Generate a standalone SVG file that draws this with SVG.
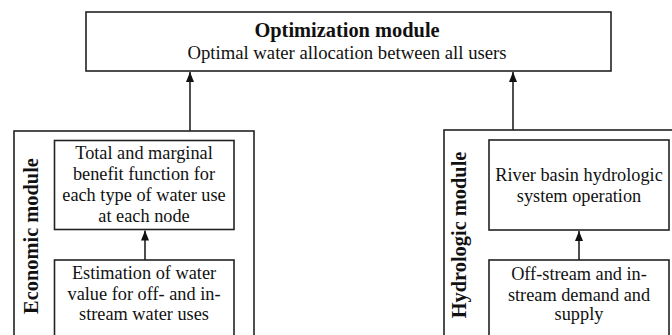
<svg xmlns="http://www.w3.org/2000/svg" width="672" height="335" viewBox="0 0 672 335">
  <style>
    .box { fill: #ffffff; stroke: #222222; stroke-width: 1.6; }
    .txt { font-family: "Liberation Serif", "Times New Roman", serif; font-size: 18.3px; fill: #111111; text-anchor: middle; }
    .sub { font-size: 18.7px; }
    .bold { font-family: "Liberation Serif", "Times New Roman", serif; font-size: 20.4px; font-weight: bold; fill: #111111; text-anchor: middle; }
    .link { stroke: #222222; stroke-width: 1.6; fill: none; marker-end: url(#arrow); }
  </style>
  <defs>
    <!-- filled triangular head, drawn along +x so orient="auto" points it along the line -->
    <marker id="arrow" viewBox="0 0 10 8" refX="10" refY="4" markerWidth="10" markerHeight="8" markerUnits="userSpaceOnUse" orient="auto">
      <path d="M0,0 L10,4 L0,8 Z" fill="#111111"/>
    </marker>
  </defs>
  <rect width="672" height="335" fill="#ffffff"/>

  <!-- Top: optimization module -->
  <g id="optimization">
    <rect class="box" x="86" y="12" width="525" height="59"/>
    <text class="bold" x="347" y="37">Optimization module</text>
    <text class="txt sub" x="347" y="58.5">Optimal water allocation between all users</text>
  </g>

  <!-- Left: economic module container -->
  <g id="economic">
    <rect class="box" x="14" y="131" width="240" height="220"/>
    <text class="bold" transform="translate(37.5,236) rotate(-90)" x="0" y="0">Economic module</text>
  </g>
  <g id="benefit">
    <rect class="box" x="54.5" y="140.5" width="179.5" height="89"/>
    <text class="txt" x="144" y="159">Total and marginal</text>
    <text class="txt" x="144" y="180">benefit function for</text>
    <text class="txt" x="144" y="201">each type of water use</text>
    <text class="txt" x="144" y="222">at each node</text>
  </g>
  <g id="valuation">
    <rect class="box" x="54.5" y="260" width="179.5" height="90"/>
    <text class="txt" x="144" y="279">Estimation of water</text>
    <text class="txt" x="144" y="300">value for off- and in-</text>
    <text class="txt" x="144" y="320">stream water uses</text>
  </g>

  <!-- Right: hydrologic module container -->
  <g id="hydrologic">
    <rect class="box" x="444" y="130" width="250" height="220"/>
    <text class="bold" transform="translate(466,235) rotate(-90)" x="0" y="0">Hydrologic module</text>
  </g>
  <g id="basin">
    <rect class="box" x="489" y="140" width="180" height="90"/>
    <text class="txt" x="579" y="181">River basin hydrologic</text>
    <text class="txt" x="579" y="202">system operation</text>
  </g>
  <g id="demand">
    <rect class="box" x="489" y="260" width="180" height="90"/>
    <text class="txt" x="579" y="280">Off-stream and in-</text>
    <text class="txt" x="579" y="301">stream demand and</text>
    <text class="txt" x="579" y="320">supply</text>
  </g>

  <!-- Connectors -->
  <g id="connectors">
    <line class="link" x1="190" y1="131" x2="190" y2="72"/>
    <line class="link" x1="513" y1="130" x2="513" y2="72"/>
    <line class="link" x1="145" y1="260" x2="145" y2="230.5"/>
    <line class="link" x1="579" y1="260" x2="579" y2="231"/>
  </g>
</svg>
